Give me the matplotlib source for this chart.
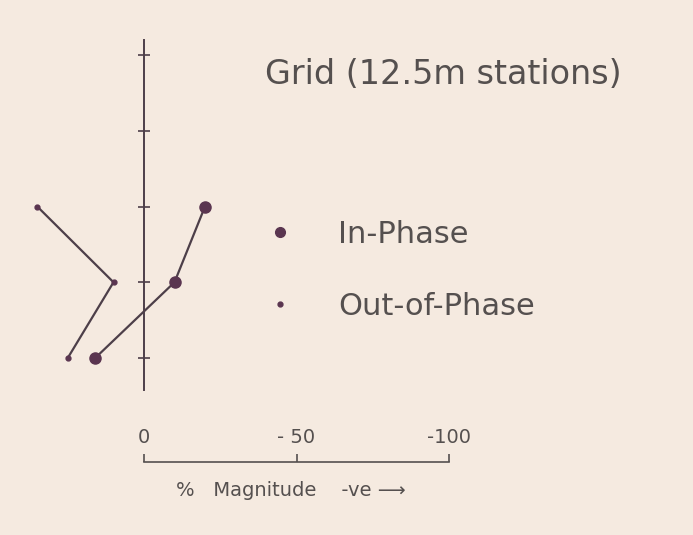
import matplotlib
matplotlib.use("Agg")
import matplotlib.pyplot as plt
from matplotlib.lines import Line2D

# stations counted upwards from the lowest tick on the station axis
stations = [0, 1, 2]
station_ticks = [0, 1, 2, 3, 4]
in_phase = [16, -10, -20]      # % magnitude (negative plotted to the right)
out_of_phase = [25, 10, 35]
scale_ticks = [0, -50, -100]
scale_labels = ["0", "- 50", "-100"]

bg = "#f5eae0"
ink = "#4d3f49"
dot = "#5a3550"
txt = "#55504f"

W, H = 693, 535
px_unit = 3.05      # pixels per % unit
px_station = 75.75  # pixels per station
x0_px, y0_px = 144, 358

fig = plt.figure(figsize=(W / 100, H / 100), dpi=100)
fig.patch.set_facecolor(bg)
ax = fig.add_axes([0, 0, 1, 1])
ax.set_facecolor(bg)
ax.set_xlim(x0_px / px_unit, -(W - x0_px) / px_unit)
ax.set_ylim(-(H - y0_px) / px_station, y0_px / px_station)

ax.plot(in_phase, stations, color=ink, lw=1.6, marker="o", ms=8,
        mfc=dot, mec=dot, zorder=3)
ax.plot(out_of_phase, stations, color=ink, lw=1.6, marker="o", ms=3.5,
        mfc=dot, mec=dot, zorder=3)

# station axis
for s in ["right", "bottom"]:
    ax.spines[s].set_visible(False)
ax.spines["left"].set_position(("data", 0))
ax.spines["left"].set_bounds(-0.42, 4.2)
ax.spines["left"].set_color(ink)
ax.spines["left"].set_linewidth(1.4)
ax.set_yticks(station_ticks)
ax.tick_params(axis="y", direction="inout", length=9, width=1.2,
               color=ink, labelleft=False)

# magnitude scale bar
bar_y = (y0_px - 462) / px_station
ax.spines["top"].set_position(("data", bar_y))
ax.spines["top"].set_bounds(-100, 0)
ax.spines["top"].set_color(txt)
ax.spines["top"].set_linewidth(1.2)
ax.set_xticks(scale_ticks)
ax.set_xticklabels(scale_labels)
ax.tick_params(axis="x", top=True, bottom=False, labeltop=True,
               labelbottom=False, direction="out", length=6, width=1.2,
               color=txt, labelcolor=txt, labelsize=14, pad=5)
ax.text(-48, (y0_px - 490) / px_station, "%   Magnitude    -ve \u27f6",
        ha="center", va="center", fontsize=14, color=txt)

fig.text(265 / W, 1 - 75 / H, "Grid (12.5m stations)", ha="left",
         va="center", fontsize=24, color=txt)

handles = [
    Line2D([], [], ls="none", marker="o", ms=7, mfc=dot, mec=dot),
    Line2D([], [], ls="none", marker="o", ms=3.5, mfc=dot, mec=dot),
]
ax.legend(handles, ["In-Phase", "Out-of-Phase"], loc="upper left",
          bbox_to_anchor=(265 / W, 1 - 220 / H), frameon=False,
          fontsize=22, labelcolor=txt, handlelength=1.0,
          handletextpad=1.4, borderpad=0, borderaxespad=0,
          labelspacing=1.4)

fig.savefig("out.png", dpi=100, facecolor=bg)
